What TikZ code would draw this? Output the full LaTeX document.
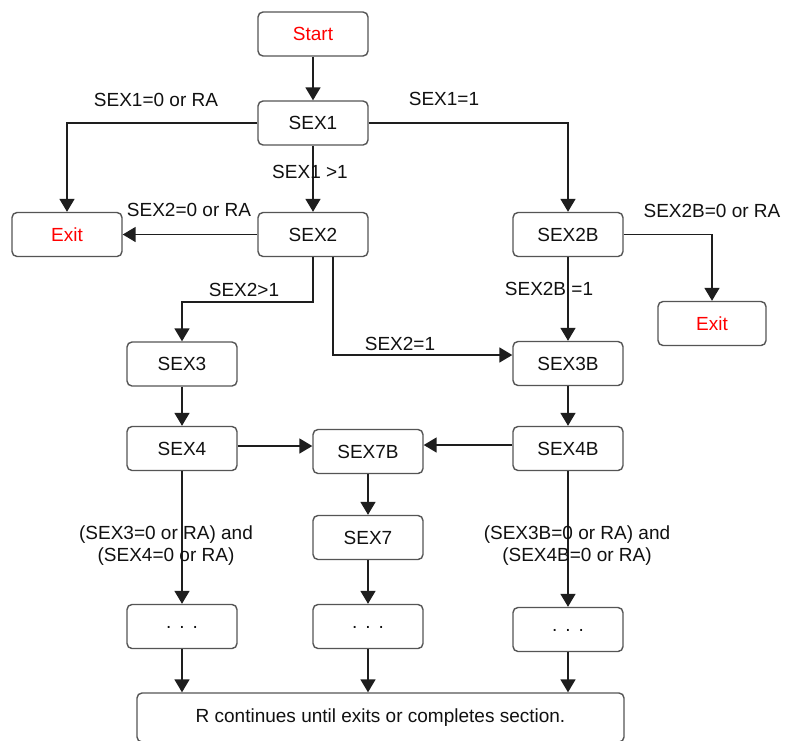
\documentclass[tikz,border=0pt]{standalone}
\usepackage{fontspec}
\setmainfont{Liberation Sans}
\usetikzlibrary{arrows.meta}
\definecolor{boxc}{HTML}{555555}
\definecolor{linec}{HTML}{1E1E1E}
\definecolor{txt}{HTML}{111111}
\definecolor{redt}{HTML}{FF0000}
\tikzset{
  box/.style={draw=boxc, line width=1.4pt, rounded corners=5pt, fill=white,
    minimum width=110pt, minimum height=44pt, inner sep=0pt, text=txt,
    font=\fontsize{19}{22}\selectfont},
  arr/.style={-{Triangle[length=13pt,width=15pt]}, line width=1.7pt, draw=linec},
  lbl/.style={font=\fontsize{19}{22}\selectfont, text=txt, inner sep=0pt, align=center}
}
\newcommand{\mydots}{\raisebox{-3pt}{.\hspace{8pt}.\hspace{8pt}.}}
\begin{document}
\begin{tikzpicture}[x=1pt,y=-1pt]
\useasboundingbox (0,0) rectangle (785,740);
\clip (0,0) rectangle (785,740);
\fill[white] (0,0) rectangle (785,740);
% nodes
\node[box, text=redt] (start) at (313,34) {Start};
\node[box] (sex1) at (313,123) {SEX1};
\node[box] (sex2) at (313,234.5) {SEX2};
\node[box, text=redt] (exitL) at (67,234.5) {Exit};
\node[box] (sex2b) at (568,234.5) {SEX2B};
\node[box, text=redt, minimum width=108pt] (exitR) at (712,323.5) {Exit};
\node[box] (sex3) at (182,364) {SEX3};
\node[box] (sex3b) at (568,363.5) {SEX3B};
\node[box] (sex4) at (182,448.5) {SEX4};
\node[box] (sex7b) at (368,451.5) {SEX7B};
\node[box] (sex4b) at (568,448.5) {SEX4B};
\node[box] (sex7) at (368,537.5) {SEX7};
\node[box] (d1) at (182,626.5) {\mydots};
\node[box] (d2) at (368,626.5) {\mydots};
\node[box] (d3) at (568,629.5) {\mydots};
\node[box, minimum width=487pt, minimum height=49pt] (rbox) at (380.5,717.5) {R continues until exits or completes section.};
% connectors
\draw[arr] (start) -- (sex1);
\draw[arr] (sex1) -- (sex2);
\draw[arr] (sex1.west) -| (exitL.north);
\draw[arr] (sex1.east) -| (sex2b.north);
\draw[arr] (sex2.west) -- (exitL.east);
\draw[arr] (sex2.south) -- ++(0,45) -| (sex3.north);
\draw[arr] ([xshift=20pt]sex2.south) |- ([yshift=8.5pt]sex3b.west);
\draw[arr] (sex2b.east) -| (exitR.north);
\draw[arr] (sex2b) -- (sex3b);
\draw[arr] (sex3) -- (sex4);
\draw[arr] (sex3b) -- (sex4b);
\draw[arr] ([yshift=2.5pt]sex4.east) -- ([yshift=2.5pt]sex4.east -| sex7b.west);
\draw[arr] ([yshift=3.5pt]sex4b.west) -- ([yshift=3.5pt]sex4b.west -| sex7b.east);
\draw[arr] (sex7b) -- (sex7);
\draw[arr] (sex4) -- (d1);
\draw[arr] (sex7) -- (d2);
\draw[arr] (sex4b) -- (d3);
\draw[arr] (d1.south) -- (d1.south |- rbox.north);
\draw[arr] (d2.south) -- (d2.south |- rbox.north);
\draw[arr] (d3.south) -- (d3.south |- rbox.north);
% labels
\node[lbl] (l1) at (156,100) {SEX1=0 or RA};
\node[lbl] (l2) at (444,99) {SEX1=1};
\node[lbl] (l3) at (310,172) {SEX1 >1};
\node[lbl] (l4) at (189,210) {SEX2=0 or RA};
\node[lbl] (l5) at (244,290) {SEX2>1};
\node[lbl] (l6) at (400,344) {SEX2=1};
\node[lbl] (l7) at (712,211) {SEX2B=0 or RA};
\node[lbl] (l8) at (549,289) {SEX2B =1};
\node[lbl] (l9) at (166,546) {(SEX3=0 or RA) and\\(SEX4=0 or RA)};
\node[lbl] (l10) at (577,546) {(SEX3B=0 or RA) and\\(SEX4B=0 or RA)};
\end{tikzpicture}
\end{document}
